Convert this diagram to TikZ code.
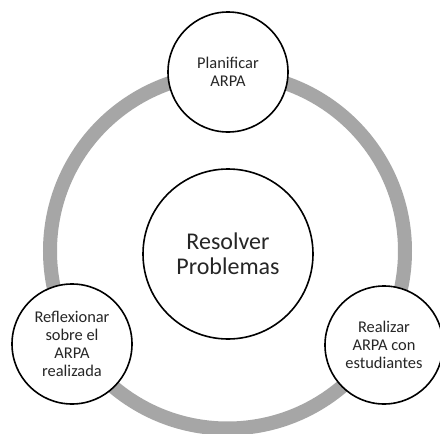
\documentclass[tikz,border=0pt]{standalone}
\usepackage{fontspec}
\setmainfont{Carlito}
\begin{document}
\begin{tikzpicture}[x=1pt,y=-1pt,
  stagecircle/.style={circle,draw=black,line width=1.6pt,fill=white,minimum size=#1,inner sep=0pt,align=center,text=black!85},
  smalltext/.style={font=\fontsize{16.4}{18}\selectfont},
  bigtext/.style={font=\fontsize{24}{25.5}\selectfont}]
\useasboundingbox (0,0) rectangle (440,434);
\fill[white] (0,0) rectangle (440,434);
\coordinate (ringc) at (227.5,251);
\draw[line width=14pt,color=black!35] (ringc) circle[radius=177.5];
\node[stagecircle=120pt,smalltext] (plan) at (228,72) {Planificar\\ARPA};
\node[stagecircle=170pt,bigtext] (res) at (228,254) {Resolver\\Problemas};
\node[stagecircle=120pt,smalltext] (refl) at (72,344) {Reflexionar\\sobre el\\ARPA\\realizada};
\node[stagecircle=118pt,smalltext] (real) at (384,345) {Realizar\\ARPA con\\estudiantes};
\end{tikzpicture}
\end{document}
